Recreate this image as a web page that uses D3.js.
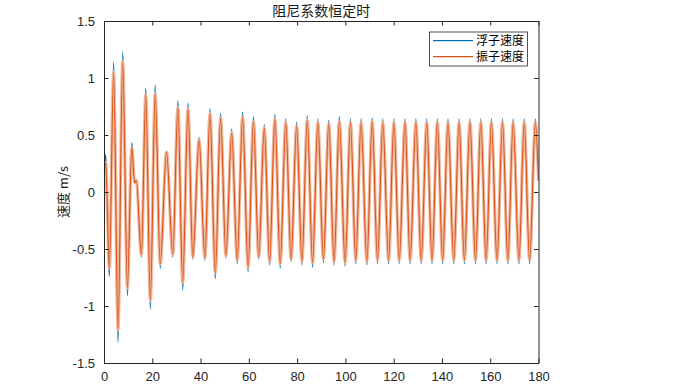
<!DOCTYPE html>
<html><head><meta charset="utf-8">
<script src="https://cdn.jsdelivr.net/npm/d3@7"></script>
<style>
html,body{margin:0;padding:0;background:#fff;}
svg{display:block;}
</style></head>
<body>
<svg id="chart" width="693" height="390"></svg>
<script>
// ---- data (extrema) ----
const timeS = [0, 0.7, 2.2, 4.0, 5.8, 7.75, 9.7, 11.5, 12.7, 13.4, 15.5, 17.3, 19.2, 21.2, 23.3, 25.9, 28.5, 30.6, 32.6, 34.8,
  36.8, 39.4, 41.8, 43.9, 46.1, 48.3, 50.5, 52.9, 55.2, 57.4, 59.7, 61.9, 64.1, 66.4, 68.6, 70.8, 73.0, 75.3, 77.5, 79.8,
  82.0, 84.2, 86.4, 88.6, 90.9, 93.1, 95.3, 97.5, 99.9, 102.1, 104.3, 106.5, 108.9, 111.1, 113.3, 115.5, 117.9, 120.1, 122.3, 124.7,
  126.8, 129.2, 131.4, 133.7, 135.9, 138.1, 140.3, 142.5, 144.9, 147.1, 149.3, 151.6, 153.9, 156.1, 158.3, 160.5, 162.8, 165.1, 167.3, 169.5,
  171.9, 174.1, 176.3, 178.7, 180];
const floatVel = [0.02, 0.33, -0.74, 1.14, -1.32, 1.23, -0.91, 0.43, 0.08, 0.11, -0.57, 0.91, -1.03, 0.94, -0.67, 0.36, -0.57, 0.80, -0.86, 0.78,
  -0.59, 0.48, -0.60, 0.73, -0.76, 0.69, -0.58, 0.55, -0.63, 0.70, -0.70, 0.66, -0.59, 0.59, -0.64, 0.68, -0.67, 0.64, -0.61, 0.61,
  -0.64, 0.67, -0.66, 0.64, -0.62, 0.63, -0.64, 0.66, -0.65, 0.64, -0.63, 0.64, -0.64, 0.65, -0.63, 0.64, -0.63, 0.64, -0.63, 0.64,
  -0.63, 0.64, -0.63, 0.64, -0.63, 0.64, -0.63, 0.64, -0.63, 0.64, -0.63, 0.64, -0.63, 0.64, -0.63, 0.64, -0.63, 0.64, -0.63, 0.64,
  -0.63, 0.64, -0.63, 0.64, 0.10];
const oscVel = [0.02, 0.26, -0.67, 1.05, -1.21, 1.14, -0.84, 0.39, 0.08, 0.10, -0.55, 0.85, -0.95, 0.86, -0.63, 0.35, -0.55, 0.74, -0.79, 0.73,
  -0.57, 0.46, -0.58, 0.69, -0.71, 0.65, -0.56, 0.52, -0.60, 0.66, -0.66, 0.62, -0.57, 0.56, -0.61, 0.64, -0.63, 0.61, -0.59, 0.58,
  -0.61, 0.63, -0.62, 0.61, -0.59, 0.60, -0.61, 0.62, -0.62, 0.61, -0.60, 0.61, -0.61, 0.62, -0.60, 0.61, -0.60, 0.61, -0.60, 0.61,
  -0.60, 0.61, -0.60, 0.61, -0.60, 0.61, -0.60, 0.61, -0.60, 0.61, -0.60, 0.61, -0.60, 0.61, -0.60, 0.61, -0.60, 0.61, -0.60, 0.61,
  -0.60, 0.61, -0.60, 0.61, 0.10];
const xTicks = [0, 20, 40, 60, 80, 100, 120, 140, 160, 180];
const yTicks = [-1.5, -1, -0.5, 0, 0.5, 1, 1.5];
const seriesNames = ["浮子速度", "振子速度"];
const seriesColors = ["#0072BD", "#D95319"];
const titleText = "阻尼系数恒定时";
const yLabelText = "速度 m/s";
const xLabelText = "时间 s";

// ---- layout ----
const L = 104, R = 538.5, T = 21, B = 363;
const axisColor = "#262626";
const numFont = "'Liberation Sans', Arial, sans-serif";
const cjkFont = "'Noto Sans CJK SC', sans-serif";

const svg = d3.select("#chart");
const x = d3.scaleLinear().domain([0, 180]).range([L, R]);
const y = d3.scaleLinear().domain([-1.5, 1.5]).range([B, T]);

svg.append("defs").append("clipPath").attr("id", "clip")
  .append("rect").attr("x", L).attr("y", T).attr("width", R - L).attr("height", B - T);

const blueData = timeS.map((t, i) => [t, floatVel[i]]);
const orangeData = timeS.map((t, i) => [t, oscVel[i]]);
const line = d3.line().x(d => x(d[0])).y(d => y(d[1])).curve(d3.curveMonotoneX);

const plot = svg.append("g").attr("clip-path", "url(#clip)");
plot.append("path").attr("d", line(blueData)).attr("fill", "none")
  .attr("stroke", seriesColors[0]).attr("stroke-width", 1.4);
plot.append("path").attr("d", line(orangeData)).attr("fill", "none")
  .attr("stroke", "#f0b79c").attr("stroke-width", 3.2);
plot.append("path").attr("d", line(orangeData)).attr("fill", "none")
  .attr("stroke", seriesColors[1]).attr("stroke-width", 1.1);

// ---- axes ----
const tickLen = 4.5;
const fmt = d => String(d);
const gB = svg.append("g").attr("transform", `translate(0,${B})`)
  .call(d3.axisBottom(x).tickValues(xTicks).tickSizeInner(-tickLen).tickSizeOuter(0).tickPadding(9).tickFormat(fmt));
const gT = svg.append("g").attr("transform", `translate(0,${T})`)
  .call(d3.axisTop(x).tickValues(xTicks).tickSizeInner(-tickLen).tickSizeOuter(0).tickFormat(""));
const gL = svg.append("g").attr("transform", `translate(${L},0)`)
  .call(d3.axisLeft(y).tickValues(yTicks).tickSizeInner(-tickLen).tickSizeOuter(0).tickPadding(9).tickFormat(fmt));
const gR = svg.append("g").attr("transform", `translate(${R},0)`)
  .call(d3.axisRight(y).tickValues(yTicks).tickSizeInner(-tickLen).tickSizeOuter(0).tickFormat(""));
[gB, gT, gL, gR].forEach(g => {
  g.selectAll("path.domain").attr("stroke", axisColor).attr("stroke-width", 1);
  g.selectAll(".tick line").attr("stroke", axisColor);
  g.selectAll("text").attr("fill", axisColor).style("font-family", numFont).style("font-size", "13px");
});
gB.selectAll("text").attr("dy", "0.71em");

// ---- title & labels ----
svg.append("text").attr("x", (L + R) / 2).attr("y", 16).attr("text-anchor", "middle")
  .style("font-family", cjkFont).style("font-size", "14px").attr("fill", "#1a1a1a").text(titleText);
svg.append("text").attr("transform", `translate(68,${(T + B) / 2}) rotate(-90)`).attr("text-anchor", "middle")
  .style("font-family", cjkFont).style("font-size", "13px").attr("fill", "#1a1a1a").text(yLabelText);
svg.append("text").attr("x", (L + R) / 2).attr("y", 401).attr("text-anchor", "middle")
  .style("font-family", cjkFont).style("font-size", "13px").attr("fill", "#1a1a1a").text(xLabelText);

// ---- legend ----
const lg = svg.append("g");
lg.append("rect").attr("x", 429.5).attr("y", 32).attr("width", 98).attr("height", 34)
  .attr("fill", "#fff").attr("stroke", axisColor).attr("stroke-width", 0.8);
seriesNames.forEach((name, i) => {
  const yy = 40.7 + i * 16;
  lg.append("line").attr("x1", 433).attr("x2", 473).attr("y1", yy).attr("y2", yy)
    .attr("stroke", seriesColors[i]).attr("stroke-width", 1.2);
  lg.append("text").attr("x", 476).attr("y", yy + 4.5)
    .style("font-family", cjkFont).style("font-size", "12px").attr("fill", "#000").text(name);
});
</script>
</body></html>
